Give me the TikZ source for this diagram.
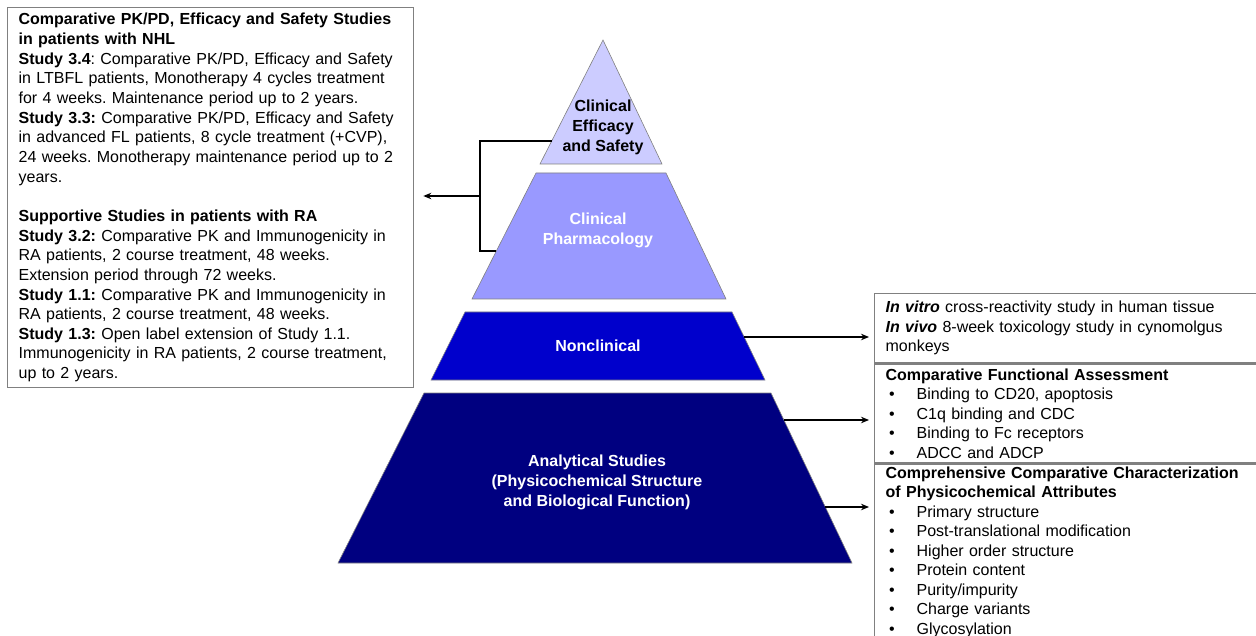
\documentclass[tikz,border=0pt]{standalone}
\usepackage{fontspec}
\setmainfont{Liberation Sans}
\usepackage{xcolor}
\usetikzlibrary{arrows.meta}

\definecolor{apexblue}{HTML}{CCCCFF}
\definecolor{pharmblue}{HTML}{9999FF}
\definecolor{nonclinblue}{HTML}{0000CC}
\definecolor{analytblue}{HTML}{000080}
\definecolor{framegray}{HTML}{808080}

\newcommand{\bul}{\hspace*{3.5pt}\makebox[27.5pt][l]{\textbullet}}
\frenchspacing

\begin{document}
\begin{tikzpicture}[x=1pt, y=-1pt, >={Stealth[length=8pt,width=6.5pt]},
    every node/.style={font=\fontsize{16}{19.5}\selectfont},
    tier/.style={font=\fontsize{16}{20}\selectfont\bfseries, align=center, text=white},
    layer/.style={draw=framegray, line width=0.6pt},
    infobox/.style={draw=framegray, line width=1.3pt, anchor=north west, align=left, inner xsep=11pt, inner ysep=0pt},
    link/.style={->, line width=1.3pt, shorten >=5pt}]
      \useasboundingbox (0,0) rectangle (1256,636);

      % pyramid
      \filldraw[layer, fill=apexblue] (603,40) -- (662,164) -- (540,164) -- cycle;
      \filldraw[layer, fill=pharmblue] (536,173) -- (666,173) -- (726,299) -- (472,299) -- cycle;
      \filldraw[layer, fill=nonclinblue] (465,312) -- (732,312) -- (765,380) -- (431,380) -- cycle;
      \filldraw[layer, fill=analytblue] (424,393) -- (771,393) -- (852,563) -- (338,563) -- cycle;

      \node[tier, text=black] (efficacy) at (603,127) {Clinical\\Efficacy\\and Safety};
      \node[tier] (pharm) at (598,230) {Clinical\\Pharmacology};
      \node[tier] (nonclin) at (598,346) {Nonclinical};
      \node[tier] (analyt) at (597,482) {Analytical Studies\\(Physicochemical Structure\\and Biological Function)};

      % study boxes
      \node[infobox, text width=384pt, minimum height=380pt,
            font=\fontsize{16}{19.65}\selectfont] (nhl) at (7,7) {%
        \textbf{Comparative PK/PD, Efficacy and Safety Studies}\\
        \textbf{in patients with NHL}\\
        \textbf{Study 3.4}: Comparative PK/PD, Efficacy and Safety\\
        in LTBFL patients, Monotherapy 4 cycles treatment\\
        for 4 weeks. Maintenance period up to 2 years.\\
        \textbf{Study 3.3:} Comparative PK/PD, Efficacy and Safety\\
        in advanced FL patients, 8 cycle treatment (+CVP),\\
        24 weeks. Monotherapy maintenance period up to 2\\
        years.\\[19.65pt]
        \textbf{Supportive Studies in patients with RA}\\
        \textbf{Study 3.2:} Comparative PK and Immunogenicity in\\
        RA patients, 2 course treatment, 48 weeks.\\
        Extension period through 72 weeks.\\
        \textbf{Study 1.1:} Comparative PK and Immunogenicity in\\
        RA patients, 2 course treatment, 48 weeks.\\
        \textbf{Study 1.3:} Open label extension of Study 1.1.\\
        Immunogenicity in RA patients, 2 course treatment,\\
        up to 2 years.};

      \node[infobox, text width=400pt, minimum height=69pt] (vitro) at (874,293) {%
        \textbf{\textit{In vitro}} cross-reactivity study in human tissue\\
        \textbf{\textit{In vivo}} 8-week toxicology study in cynomolgus\\
        monkeys};
      \node[infobox, text width=400pt, minimum height=99pt] (func) at (vitro.south west) {%
        \textbf{Comparative Functional Assessment}\\
        \bul Binding to CD20, apoptosis\\
        \bul C1q binding and CDC\\
        \bul Binding to Fc receptors\\
        \bul ADCC and ADCP};
      \node[infobox, text width=400pt, minimum height=176pt] (physchem) at (func.south west) {%
        \textbf{Comprehensive Comparative Characterization}\\
        \textbf{of Physicochemical Attributes}\\
        \bul Primary structure\\
        \bul Post-translational modification\\
        \bul Higher order structure\\
        \bul Protein content\\
        \bul Purity/impurity\\
        \bul Charge variants\\
        \bul Glycosylation};

      % connectors
      \coordinate (effedge) at (552,141);
      \coordinate (pharmedge) at (496,251);
      \coordinate (bend) at (480,196);
      \coordinate (nonclinedge) at (744,337);
      \coordinate (funcedge) at (784,420);
      \coordinate (physedge) at (825,507);

      \draw[line width=1.3pt] (effedge) -| (bend) |- (pharmedge);
      \draw[link, shorten >=9pt] (bend) -- (nhl.east |- bend);
      \draw[link] (nonclinedge) -- (vitro.west |- nonclinedge);
      \draw[link] (funcedge) -- (func.west |- funcedge);
      \draw[link] (physedge) -- (physchem.west |- physedge);
    \end{tikzpicture}
\end{document}
